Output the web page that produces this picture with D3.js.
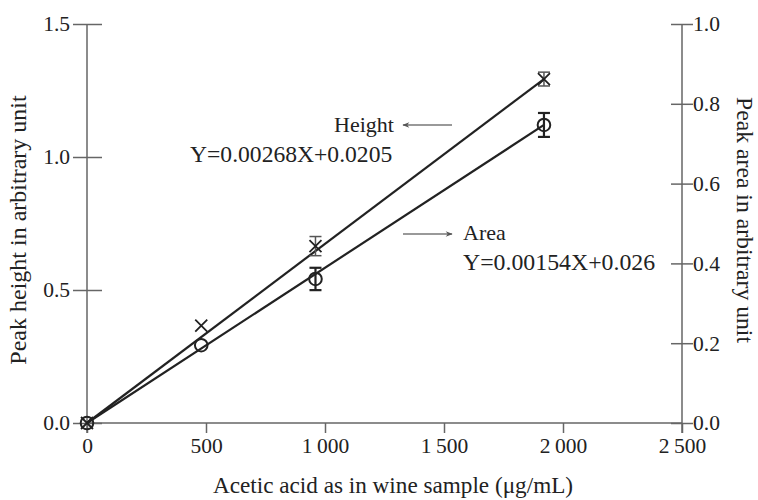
<!DOCTYPE html>
<html><head><meta charset="utf-8">
<script src="https://cdn.jsdelivr.net/npm/d3@7"></script>
<style>
html,body{margin:0;padding:0;background:#fff;}
svg text{font-family:"Liberation Serif","DejaVu Serif",serif;fill:#222;}
</style></head>
<body>
<svg id="chart" width="758" height="500"></svg>
<script>
// ---- data ----
const concentrations = [0, 480, 960, 1920];
const heightValues = [0, 0.366, 0.665, 1.293];
const heightErrors = [0, 0, 0.036, 0.026];
const areaValues = [0, 0.195, 0.361, 0.747];
const areaErrors = [0, 0, 0.028, 0.03];
const fitX = [0, 1920];
const heightFit = [0, 1.293];
const areaFit = [0, 0.747];
const xTicks = [0, 500, 1000, 1500, 2000, 2500];
const xTickLabels = ["0", "500", "1\u2009000", "1\u2009500", "2\u2009000", "2\u2009500"];
const leftTicks = [0, 0.5, 1.0, 1.5];
const rightTicks = [0, 0.2, 0.4, 0.6, 0.8, 1.0];
const xTitle = "Acetic acid as in wine sample (\u03bcg/mL)";
const leftTitle = "Peak height in arbitrary unit";
const rightTitle = "Peak area in arbitrary unit";
const heightLabel = "Height";
const heightEq = "Y=0.00268X+0.0205";
const areaLabel = "Area";
const areaEq = "Y=0.00154X+0.026";

(function () {
// ---- layout ----
const svg = d3.select("#chart");
const mLeft = 87, mRight = 682, mTop = 24, mBottom = 423;
const x = d3.scaleLinear().domain([0, 2500]).range([mLeft, mRight]);
const yL = d3.scaleLinear().domain([0, 1.5]).range([mBottom, mTop]);
const yR = d3.scaleLinear().domain([0, 1.0]).range([mBottom, mTop]);
const axisColor = "#666", ink = "#222";

svg.append("defs").append("marker")
  .attr("id", "arr").attr("viewBox", "0 0 10 10").attr("refX", 9).attr("refY", 5)
  .attr("markerWidth", 9).attr("markerHeight", 7).attr("markerUnits", "userSpaceOnUse")
  .attr("orient", "auto")
  .append("path").attr("d", "M0,1 L10,5 L0,9 L3,5 Z").attr("fill", "#555");

function styleAxis(g) {
  g.selectAll("path,line").attr("stroke", axisColor).attr("stroke-width", 1.5);
  g.selectAll("text").attr("fill", ink).style("font-size", "21.5px")
    .style("font-family", "'Liberation Serif','DejaVu Serif',serif");
}
const xAxis = d3.axisBottom(x).tickValues(xTicks)
  .tickFormat((d, i) => xTickLabels[i]).tickSizeOuter(0).tickSize(10).tickPadding(5);
svg.append("g").attr("transform", `translate(0,${mBottom})`).call(xAxis).call(styleAxis)
  .call(g => g.select(".domain").attr("d", `M${mLeft},0H${mRight}`));

const lAxis = d3.axisLeft(yL).tickValues(leftTicks).tickFormat(d3.format(".1f"))
  .tickSizeOuter(0).tickSize(14).tickPadding(3);
const lg = svg.append("g").attr("transform", `translate(${mLeft},0)`).call(lAxis).call(styleAxis);
lg.selectAll(".tick line").attr("x1", 15);
lg.select(".domain").attr("d", `M0,${mTop}V${mBottom + 10}`);

const rAxis = d3.axisRight(yR).tickValues(rightTicks).tickFormat(d3.format(".1f"))
  .tickSizeOuter(0).tickSize(11).tickPadding(0);
const rg = svg.append("g").attr("transform", `translate(${mRight},0)`).call(rAxis).call(styleAxis);
rg.selectAll(".tick line").attr("x1", -11);
rg.select(".domain").attr("d", `M0,${mTop}V${mBottom + 10}`);

svg.append("text").attr("x", 393).attr("y", 493)
  .attr("text-anchor", "middle").style("font-size", "23.2px").text(xTitle);
svg.append("text").attr("transform", "translate(26,230) rotate(-90)")
  .attr("text-anchor", "middle").style("font-size", "24px").text(leftTitle);
svg.append("text").attr("transform", "translate(737,220) rotate(90)")
  .attr("text-anchor", "middle").style("font-size", "23.7px").text(rightTitle);

const lineL = d3.line().x((d, i) => x(fitX[i])).y(d => yL(d));
const lineR = d3.line().x((d, i) => x(fitX[i])).y(d => yR(d));
svg.append("path").attr("d", lineL(heightFit)).attr("fill", "none").attr("stroke", ink).attr("stroke-width", 2.2);
svg.append("path").attr("d", lineR(areaFit)).attr("fill", "none").attr("stroke", ink).attr("stroke-width", 2.2);

function errBars(vals, errs, y, color, width) {
  const g = svg.append("g").attr("stroke", color).attr("stroke-width", width);
  concentrations.forEach((c, i) => {
    if (!errs[i]) return;
    const cx = x(c), y1 = y(vals[i] - errs[i]), y2 = y(vals[i] + errs[i]);
    g.append("line").attr("x1", cx).attr("x2", cx).attr("y1", y1).attr("y2", y2);
    g.append("line").attr("x1", cx - 6).attr("x2", cx + 6).attr("y1", y1).attr("y2", y1);
    g.append("line").attr("x1", cx - 6).attr("x2", cx + 6).attr("y1", y2).attr("y2", y2);
  });
}
errBars(heightValues, heightErrors, yL, "#555", 1.5);
errBars(areaValues, areaErrors, yR, ink, 2.2);

const s = 6;
svg.append("g").selectAll("path").data(heightValues).join("path")
  .attr("d", (d, i) => {
    const cx = x(concentrations[i]), cy = yL(d);
    return `M${cx - s},${cy - s}L${cx + s},${cy + s}M${cx - s},${cy + s}L${cx + s},${cy - s}`;
  })
  .attr("stroke", ink).attr("stroke-width", 1.8).attr("fill", "none");
svg.append("g").selectAll("circle").data(areaValues).join("circle")
  .attr("cx", (d, i) => x(concentrations[i])).attr("cy", d => yR(d)).attr("r", 6.3)
  .attr("fill", "none").attr("stroke", ink).attr("stroke-width", 2);

svg.append("text").attr("x", 394).attr("y", 132).attr("text-anchor", "end")
  .style("font-size", "22px").text(heightLabel);
svg.append("line").attr("x1", 452).attr("x2", 403).attr("y1", 125).attr("y2", 125)
  .attr("stroke", "#777").attr("stroke-width", 1.3).attr("marker-end", "url(#arr)");
svg.append("text").attr("x", 190).attr("y", 162).style("font-size", "23.6px").text(heightEq);

svg.append("line").attr("x1", 403).attr("x2", 452).attr("y1", 234).attr("y2", 234)
  .attr("stroke", "#777").attr("stroke-width", 1.3).attr("marker-end", "url(#arr)");
svg.append("text").attr("x", 463).attr("y", 240).style("font-size", "22px").text(areaLabel);
svg.append("text").attr("x", 463).attr("y", 270).style("font-size", "23.8px").text(areaEq);
})();
</script>
</body></html>
